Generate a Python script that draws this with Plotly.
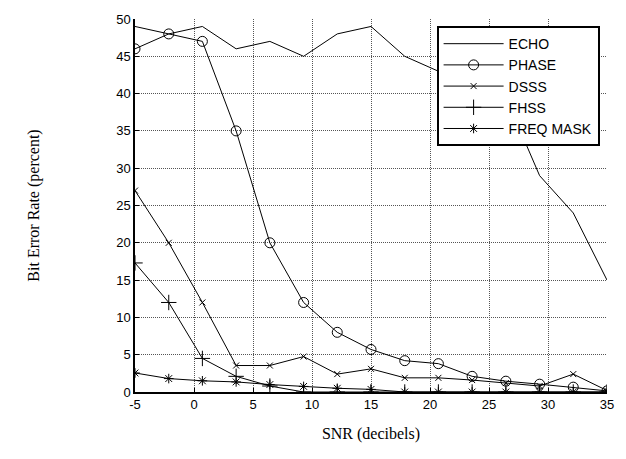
import plotly.graph_objects as go

snr = [-5, -2.14, 0.71, 3.57, 6.43, 9.29, 12.14, 15, 17.86, 20.71, 23.57, 26.43, 29.29, 32.14, 35]
echo = [49, 48, 49, 46, 47, 45, 48, 49, 45, 43, 42, 39.5, 29, 24, 15]
phase = [46, 48, 47, 35, 20, 12, 8, 5.7, 4.2, 3.8, 2.1, 1.45, 1.05, 0.65, 0.15]
dsss = [27, 20, 12, 3.55, 3.55, 4.75, 2.4, 3.1, 1.9, 1.9, 1.6, 1.2, 0.8, 2.4, 0.2]
fhss = [17.3, 12, 4.5, 2.1, 0.8, 0, 0, 0, 0, 0, 0, 0, 0, 0, 0]
freqmask = [2.55, 1.8, 1.5, 1.35, 1.0, 0.75, 0.5, 0.35, 0, 0, 0, 0, 0, 0, 0]

xticks = [-5, 0, 5, 10, 15, 20, 25, 30, 35]
xticklabels = ["-5", "0", "5", "10", "15", "20", "25", "30", "35"]
yticks = [0, 5, 10, 15, 20, 25, 30, 35, 40, 45, 50]

series = [
    ("ECHO", echo, "lines", None, None),
    ("PHASE", phase, "lines+markers", "circle-open", 10),
    ("DSSS", dsss, "lines+markers", "x-thin-open", 6),
    ("FHSS", fhss, "lines+markers", "cross-thin-open", 11),
    ("FREQ MASK", freqmask, "lines+markers", "asterisk-open", 8),
]

fig = go.Figure()
for name, vals, mode, sym, size in series:
    kw = dict(x=snr, y=vals, mode=mode, name=name,
              line=dict(color="black", width=1))
    if sym:
        kw["marker"] = dict(symbol=sym, size=size, color="black",
                            line=dict(color="black", width=1))
    fig.add_trace(go.Scatter(**kw))

fig.update_layout(
    width=626, height=459,
    margin=dict(l=135, r=14, t=15, b=67),
    paper_bgcolor="white", plot_bgcolor="white",
    font=dict(family="Liberation Sans, Arial", size=13, color="black"),
    showlegend=True,
    legend=dict(x=0.639, y=0.981, xanchor="left", yanchor="top",
                bgcolor="white", bordercolor="black", borderwidth=2,
                font=dict(family="Liberation Sans, Arial", size=14),
                tracegroupgap=0, itemwidth=60),
)
fig.update_xaxes(
    range=[-5, 35], tickvals=xticks, ticktext=xticklabels,
    showgrid=True, gridcolor="#555", griddash="1px,1px", gridwidth=1,
    showline=True, linecolor="black", linewidth=1.5, mirror=False,
    ticks="inside", ticklen=4, tickcolor="black", zeroline=False,
    title=dict(text="SNR (decibels)", font=dict(family="Liberation Serif, Times New Roman", size=16), standoff=16),
)
fig.update_yaxes(
    range=[0, 50], tickvals=yticks,
    showgrid=True, gridcolor="#555", griddash="1px,1px", gridwidth=1,
    showline=True, linecolor="black", linewidth=1.5, mirror=False,
    ticks="inside", ticklen=4, tickcolor="black", zeroline=False,
    title=dict(text="Bit Error Rate (percent)", font=dict(family="Liberation Serif, Times New Roman", size=16), standoff=73),
)
fig.write_html("out.html")
